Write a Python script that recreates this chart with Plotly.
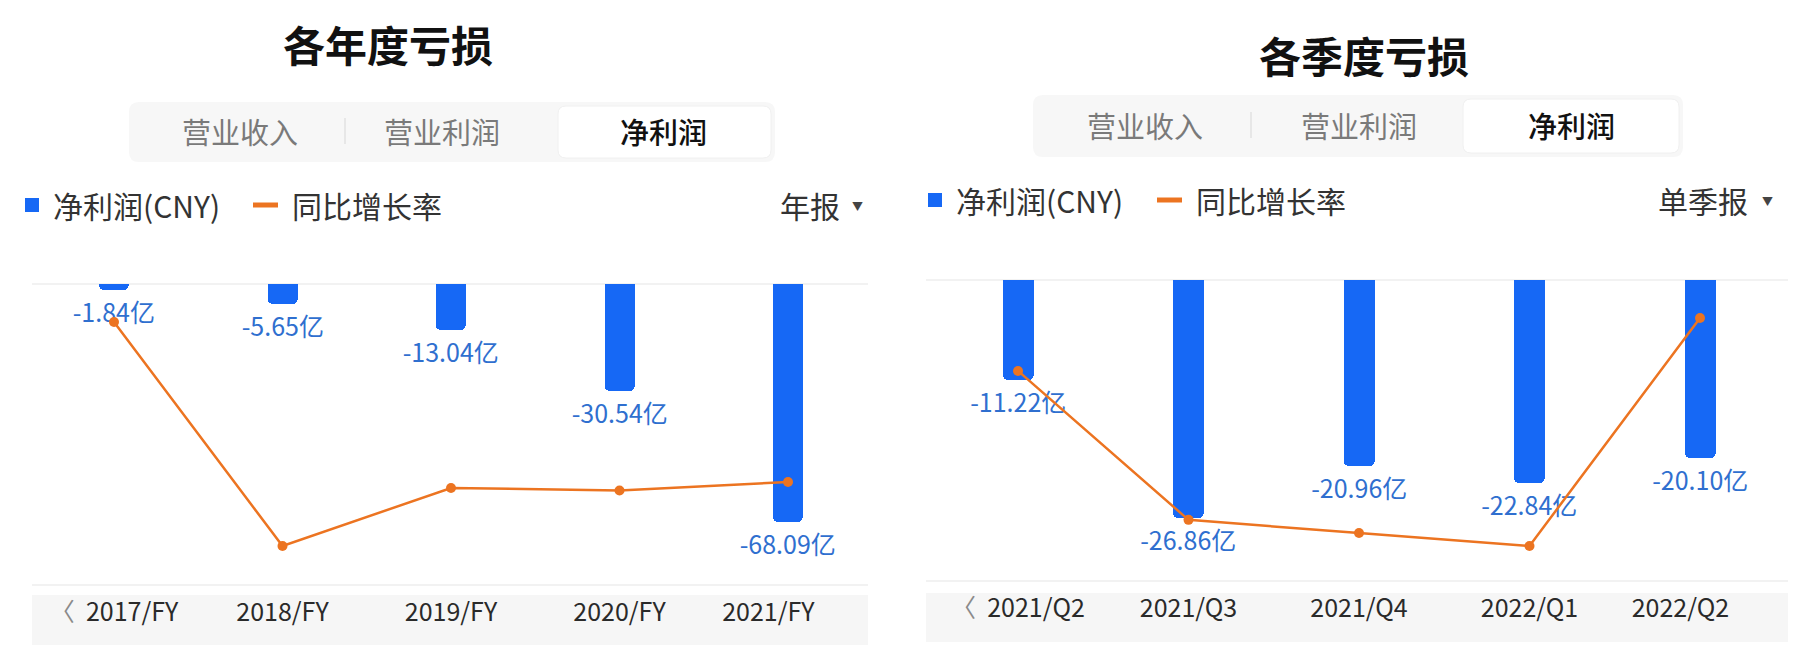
"""
各年度 / 各季度亏损 - 净利润与同比增长率
"""

import plotly.graph_objects as go

W, H = 1814, 647
OFF = 8  # page body margin: the figure starts 8px in from the window edge
FW, FH = W - OFF, H - OFF
FONT = "Noto Sans CJK SC, Noto Sans, sans-serif"

# 年度数据（亿元 / %）
years = ["2017/FY", "2018/FY", "2019/FY", "2020/FY", "2021/FY"]
year_profit = [-1.84, -5.65, -13.04, -30.54, -68.09]
year_growth = [87.2, -207.1, -130.8, -134.2, -123.0]

# 季度数据（亿元 / %）
quarters = ["2021/Q2", "2021/Q3", "2021/Q4", "2022/Q1", "2022/Q2"]
quarter_profit = [-11.22, -26.86, -20.96, -22.84, -20.10]
quarter_growth = [-103.7, -172.9, -179.0, -185.0, -79.1]

titles = ["各年度亏损", "各季度亏损"]
tabs = ["营业收入", "营业利润", "净利润"]
legend_names = ["净利润(CNY)", "同比增长率"]
period_names = ["年报", "单季报"]

BLUE = "#1668f5"
ORANGE = "#ec7421"
LABEL_BLUE = "#2f6fcf"


def px(x):
    # window pixel -> paper x
    return (x - OFF) / FW


def py(y):
    # window pixel -> paper y
    return 1 - (y - OFF) / FH


def rrect(x0, y0, x1, y1, r):
    """rounded rectangle path in paper coords from pixel box"""
    pts = [
        f"M{px(x0 + r)},{py(y0)}",
        f"L{px(x1 - r)},{py(y0)}",
        f"Q{px(x1)},{py(y0)} {px(x1)},{py(y0 + r)}",
        f"L{px(x1)},{py(y1 - r)}",
        f"Q{px(x1)},{py(y1)} {px(x1 - r)},{py(y1)}",
        f"L{px(x0 + r)},{py(y1)}",
        f"Q{px(x0)},{py(y1)} {px(x0)},{py(y1 - r)}",
        f"L{px(x0)},{py(y0 + r)}",
        f"Q{px(x0)},{py(y0)} {px(x0 + r)},{py(y0)}",
        "Z",
    ]
    return " ".join(pts)


def tick_labels(cats):
    labels = list(cats)
    labels[0] = "<span style='color:#8a8a8a'>〈</span>\u00a0\u00a0" + labels[0]
    labels[-1] = labels[-1] + "\u00a0" * 7
    return labels


fig = go.Figure()

panels = [
    dict(cats=years, profit=year_profit, growth=year_growth, xa="x", ya="y", ya2="y2"),
    dict(cats=quarters, profit=quarter_profit, growth=quarter_growth, xa="x2", ya="y3", ya2="y4"),
]

for p in panels:
    fig.add_trace(go.Bar(
        x=p["cats"],
        y=p["profit"],
        xaxis=p["xa"],
        yaxis=p["ya"],
        width=0.18,
        marker=dict(color=BLUE, cornerradius=5, line=dict(width=0)),
        text=[f"{v:.2f}亿" for v in p["profit"]],
        textposition="outside",
        constraintext="none",
        cliponaxis=False,
        textfont=dict(family=FONT, size=25, color=LABEL_BLUE),
        showlegend=False,
    ))
    fig.add_trace(go.Scatter(
        x=p["cats"],
        y=p["growth"],
        xaxis=p["xa"],
        yaxis=p["ya2"],
        mode="lines+markers",
        line=dict(color=ORANGE, width=2.5),
        marker=dict(color=ORANGE, size=10),
        cliponaxis=False,
        showlegend=False,
    ))

axis_common = dict(showgrid=False, zeroline=False, showline=False)

fig.update_layout(
    width=FW,
    height=FH,
    margin=dict(l=0, r=0, t=0, b=0),
    paper_bgcolor="white",
    plot_bgcolor="rgba(0,0,0,0)",
    font=dict(family=FONT, color="#333"),
    bargap=0,
    xaxis=dict(
        domain=[px(29.75), px(872.25)], anchor="y", type="category", range=[-0.5, 4.5],
        tickmode="array", tickvals=years, ticktext=tick_labels(years),
        ticks="", ticklabelstandoff=10, tickfont=dict(size=25, color="#2a2a2a"), **axis_common,
    ),
    yaxis=dict(domain=[py(585), py(284)], range=[-86.2, 0], showticklabels=False, **axis_common),
    yaxis2=dict(overlaying="y", anchor="x", range=[-258.3, 137.2], visible=False),
    xaxis2=dict(
        domain=[px(932.75), px(1785.25)], anchor="y3", type="category", range=[-0.5, 4.5],
        tickmode="array", tickvals=quarters, ticktext=tick_labels(quarters),
        ticks="", ticklabelstandoff=10, tickfont=dict(size=25, color="#2a2a2a"), **axis_common,
    ),
    yaxis3=dict(domain=[py(581), py(280)], range=[-33.9, 0], showticklabels=False, **axis_common),
    yaxis4=dict(overlaying="y3", anchor="x2", range=[-201.3, -61.45], visible=False),
)

shapes = []
annotations = []

# 每个面板的像素布局（窗口坐标）
layout_px = [
    dict(title=(388, 43), bar=(129, 102, 775, 162), active=(558, 106, 771, 158),
         tab_x=[240, 442, 663], tab_y=131, sep=345,
         leg_y=205, sq=25, t1=51, dash=253, t2=290, period_right=842, arrow=857,
         grid=(32, 868, 284, 585), band=(32, 868, 595, 645)),
    dict(title=(1364, 55), bar=(1033, 95, 1683, 157), active=(1463, 99, 1679, 153),
         tab_x=[1145, 1359, 1571], tab_y=125, sep=1251,
         leg_y=200, sq=928, t1=954, dash=1157, t2=1194, period_right=1750, arrow=1767,
         grid=(926, 1788, 280, 581), band=(926, 1788, 593, 642)),
]

for i, L in enumerate(layout_px):
    # 标题
    annotations.append(dict(
        text=titles[i], x=px(L["title"][0]), y=py(L["title"][1]), xref="paper", yref="paper",
        xanchor="center", yanchor="middle", showarrow=False,
        font=dict(family=FONT, size=42, color="#111", weight="bold"),
    ))
    # 选项卡
    x0, y0, x1, y1 = L["bar"]
    shapes.append(dict(type="path", path=rrect(x0, y0, x1, y1, 10), xref="paper", yref="paper",
                       fillcolor="#f7f7f7", line=dict(width=0), layer="below"))
    x0, y0, x1, y1 = L["active"]
    shapes.append(dict(type="path", path=rrect(x0, y0, x1, y1, 8), xref="paper", yref="paper",
                       fillcolor="white", line=dict(color="#f0f0f0", width=1), layer="below"))
    shapes.append(dict(type="line", x0=px(L["sep"]), x1=px(L["sep"]),
                       y0=py(L["tab_y"] - 13), y1=py(L["tab_y"] + 13), xref="paper", yref="paper",
                       line=dict(color="#e2e2e2", width=1.5), layer="below"))
    for j, name in enumerate(tabs):
        active = j == len(tabs) - 1
        annotations.append(dict(
            text=name, x=px(L["tab_x"][j]), y=py(L["tab_y"]), xref="paper", yref="paper",
            xanchor="center", yanchor="middle", showarrow=False,
            font=dict(family=FONT, size=29, color="#111" if active else "#7a7a7a",
                      weight=500 if active else "normal"),
        ))
    # 图例
    ly = L["leg_y"]
    shapes.append(dict(type="rect", x0=px(L["sq"]), x1=px(L["sq"] + 14), y0=py(ly - 7), y1=py(ly + 7),
                       xref="paper", yref="paper", fillcolor=BLUE, line=dict(width=0)))
    shapes.append(dict(type="rect", x0=px(L["dash"]), x1=px(L["dash"] + 25), y0=py(ly - 2.5), y1=py(ly + 2.5),
                       xref="paper", yref="paper", fillcolor=ORANGE, line=dict(width=0)))
    for tx, name in [(L["t1"], legend_names[0]), (L["t2"], legend_names[1])]:
        annotations.append(dict(
            text=name, x=px(tx), y=py(ly), xref="paper", yref="paper",
            xanchor="left", yanchor="middle", showarrow=False,
            font=dict(family=FONT, size=30, color="#333"),
        ))
    annotations.append(dict(
        text=period_names[i], x=px(L["period_right"]), y=py(ly), xref="paper", yref="paper",
        xanchor="right", yanchor="middle", showarrow=False,
        font=dict(family=FONT, size=30, color="#333"),
    ))
    annotations.append(dict(
        text="▼", x=px(L["arrow"]), y=py(ly + 1), xref="paper", yref="paper",
        xanchor="center", yanchor="middle", showarrow=False,
        font=dict(family=FONT, size=11, color="#444"),
    ))
    # 网格线和横轴底色
    gx0, gx1, gy0, gy1 = L["grid"]
    for gy in (gy0, gy1):
        shapes.append(dict(type="line", x0=px(gx0), x1=px(gx1), y0=py(gy), y1=py(gy),
                           xref="paper", yref="paper", line=dict(color="#eeeeee", width=1.5), layer="below"))
    bx0, bx1, by0, by1 = L["band"]
    shapes.append(dict(type="rect", x0=px(bx0), x1=px(bx1), y0=py(by1), y1=py(by0),
                       xref="paper", yref="paper", fillcolor="#f6f6f6", line=dict(width=0), layer="below"))

fig.update_layout(shapes=shapes, annotations=annotations)

fig.write_html("out.html")
